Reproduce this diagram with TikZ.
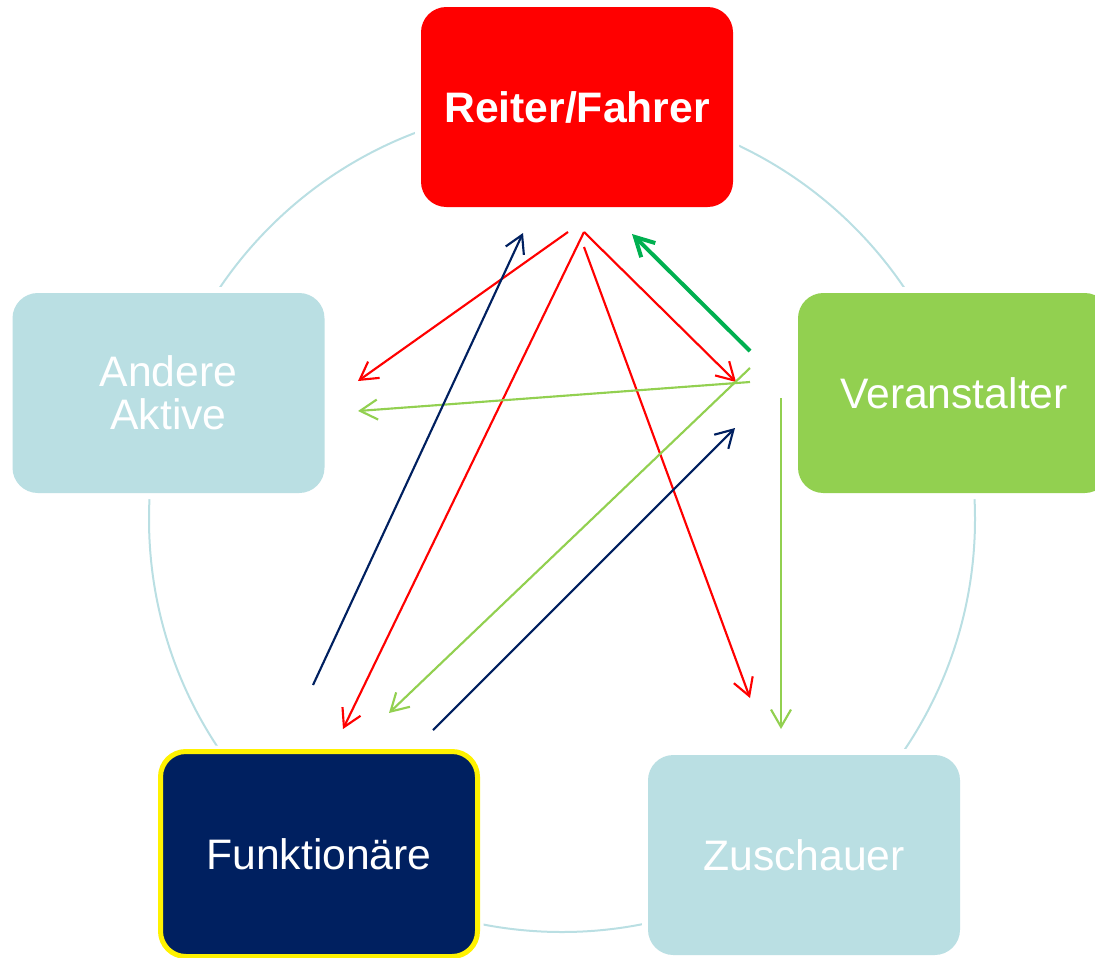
\documentclass[tikz,border=0pt]{standalone}
\usepackage{fontspec}
\setmainfont{Liberation Sans}
\usetikzlibrary{arrows.meta}

\definecolor{rfred}{HTML}{FF0000}
\definecolor{palecyan}{HTML}{BADFE3}
\definecolor{leafgreen}{HTML}{92D050}
\definecolor{darknavy}{HTML}{002060}
\definecolor{emerald}{HTML}{00B050}

\tikzset{every picture/.style={line width=0.75pt}}
\tikzset{
  role/.style={rectangle, rounded corners=19pt, minimum width=234pt, minimum height=150pt,
    align=center, text=white, inner sep=0pt, font=\fontsize{32}{32.5}\selectfont,
    preaction={draw=white, line width=9pt}},
  flow/.style={-{Straight Barb[length=13pt,width=15pt]}, line width=1.6pt},
}

\begin{document}
\begin{tikzpicture}[x=0.75pt,y=0.75pt,yscale=-1,xscale=1]
\useasboundingbox (0,0) rectangle (1095,957);

% ring
\draw [palecyan, line width=1.5pt] (562,519) circle [radius=413];

% boxes
\node (reiter) [role, fill=rfred, font=\fontsize{32}{32.5}\selectfont\bfseries] at (577,107) {Reiter/Fahrer};
\node (andere) [role, fill=palecyan] at (168.5,393) {Andere\\Aktive};
\node (veran) [role, fill=leafgreen] at (954,393) {Veranstalter};
\node (zusch) [role, fill=palecyan] at (804,855) {Zuschauer};
\node (funkt) [role, fill=darknavy, draw=yellow, line width=3.75pt, minimum width=237.75pt,
  minimum height=153.75pt, preaction={}] at (319,854) {Funktionäre};

% arrow ends
\coordinate (r1) at (568,232);
\coordinate (r2) at (584,232);
\coordinate (r3) at (584,247);
\coordinate (rin) at (523,233);
\coordinate (rgr) at (632,234);
\coordinate (aa1) at (358,381);
\coordinate (aa2) at (358,411);
\coordinate (v1) at (750,351);
\coordinate (v2) at (750,368);
\coordinate (v3) at (750,382);
\coordinate (v4) at (781,398);
\coordinate (vin1) at (736,382);
\coordinate (vin2) at (735,428);
\coordinate (f1) at (313,685);
\coordinate (f2) at (433,730);
\coordinate (fin1) at (343,729);
\coordinate (fin2) at (389,713);
\coordinate (z1) at (750,698);
\coordinate (z2) at (781,729);

% Reiter/Fahrer
\draw [flow, rfred] (r1) -- (aa1);
\draw [flow, rfred] (r2) -- (fin1);
\draw [flow, rfred] (r2) -- (vin1);
\draw [flow, rfred] (r3) -- (z1);

% Veranstalter
\draw [-{Straight Barb[length=14pt,width=15pt]}, emerald, line width=3pt] (v1) -- (rgr);
\draw [flow, leafgreen] (v3) -- (aa2);
\draw [flow, leafgreen] (v2) -- (fin2);
\draw [flow, leafgreen] (v4) -- (z2);

% Funktionaere
\draw [flow, darknavy] (f1) -- (rin);
\draw [flow, darknavy] (f2) -- (vin2);

\end{tikzpicture}
\end{document}
